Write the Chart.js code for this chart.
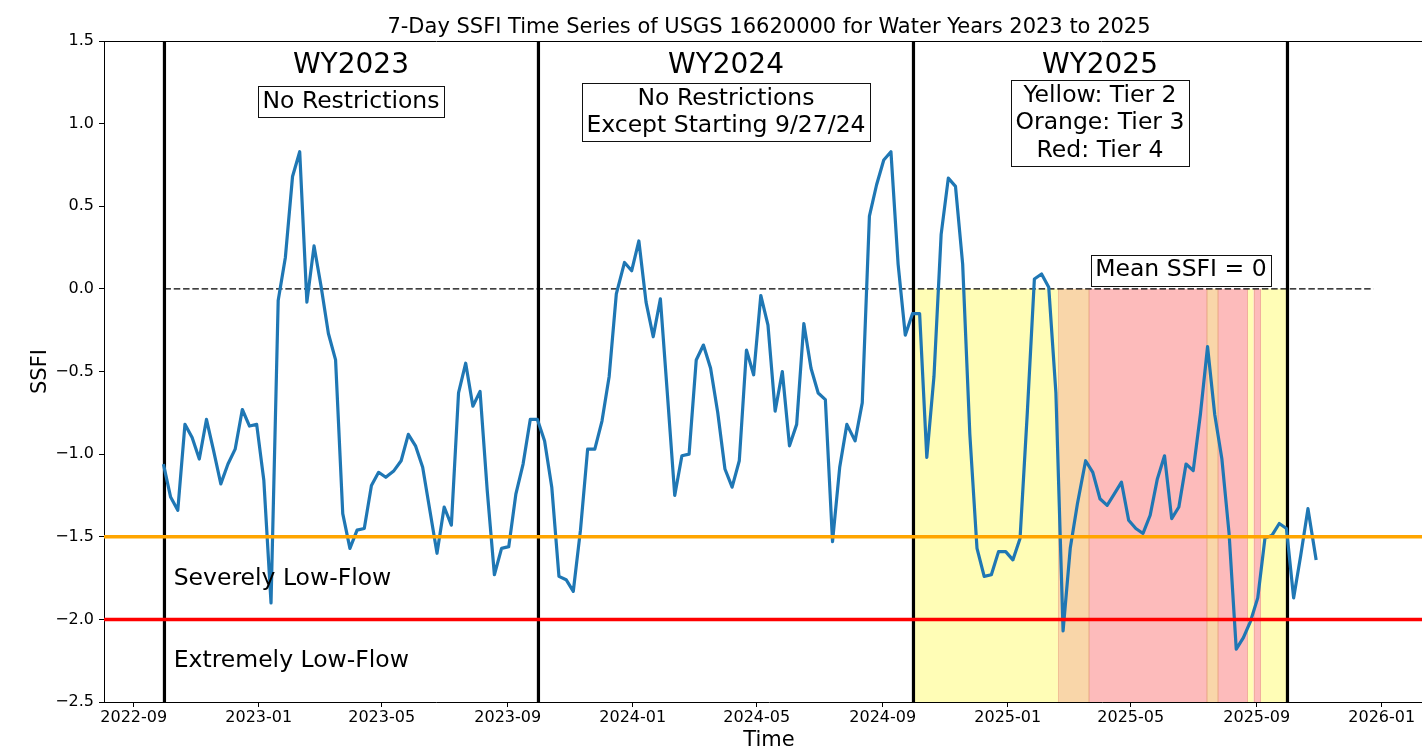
<!DOCTYPE html>
<html>
<head>
<meta charset="utf-8">
<title>7-Day SSFI Time Series of USGS 16620000</title>
<script src="https://cdn.jsdelivr.net/npm/chart.js@4.4.1/dist/chart.umd.min.js"></script>
<style>
  html, body { margin: 0; padding: 0; background: #fff; overflow: hidden; }
  canvas { display: block; }
</style>
</head>
<body>
<canvas id="chart" width="1434" height="748"></canvas>
<script>
"use strict";

// weekly 7-day SSFI values
const weekDates = [
	'2022-09-30','2022-10-07','2022-10-14','2022-10-21','2022-10-28','2022-11-04','2022-11-11','2022-11-18','2022-11-25','2022-12-02',
	'2022-12-09','2022-12-16','2022-12-23','2022-12-30','2023-01-06','2023-01-13','2023-01-20','2023-01-27','2023-02-03','2023-02-10',
	'2023-02-17','2023-02-24','2023-03-03','2023-03-10','2023-03-17','2023-03-24','2023-03-31','2023-04-07','2023-04-14','2023-04-21',
	'2023-04-28','2023-05-05','2023-05-13','2023-05-20','2023-05-27','2023-06-03','2023-06-10','2023-06-17','2023-06-24','2023-07-01',
	'2023-07-08','2023-07-15','2023-07-22','2023-07-29','2023-08-05','2023-08-12','2023-08-19','2023-08-26','2023-09-02','2023-09-09',
	'2023-09-16','2023-09-23','2023-09-30','2023-10-07','2023-10-14','2023-10-21','2023-10-28','2023-11-04','2023-11-11','2023-11-18',
	'2023-11-25','2023-12-02','2023-12-09','2023-12-16','2023-12-24','2023-12-31','2024-01-07','2024-01-14','2024-01-21','2024-01-28',
	'2024-02-04','2024-02-11','2024-02-18','2024-02-25','2024-03-03','2024-03-10','2024-03-17','2024-03-24','2024-03-31','2024-04-07',
	'2024-04-14','2024-04-21','2024-04-28','2024-05-05','2024-05-12','2024-05-19','2024-05-26','2024-06-02','2024-06-09','2024-06-16',
	'2024-06-23','2024-06-30','2024-07-07','2024-07-14','2024-07-21','2024-07-28','2024-08-05','2024-08-12','2024-08-19','2024-08-26',
	'2024-09-02','2024-09-09','2024-09-16','2024-09-23','2024-09-30','2024-10-07','2024-10-14','2024-10-21','2024-10-28','2024-11-04',
	'2024-11-11','2024-11-18','2024-11-25','2024-12-02','2024-12-09','2024-12-16','2024-12-23','2024-12-30','2025-01-06','2025-01-13',
	'2025-01-20','2025-01-27','2025-02-03','2025-02-10','2025-02-17','2025-02-24','2025-03-03','2025-03-10','2025-03-18','2025-03-25',
	'2025-04-01','2025-04-08','2025-04-15','2025-04-22','2025-04-29','2025-05-06','2025-05-13','2025-05-20','2025-05-27','2025-06-03',
	'2025-06-10','2025-06-17','2025-06-24','2025-07-01','2025-07-08','2025-07-15','2025-07-22','2025-07-29','2025-08-05','2025-08-12',
	'2025-08-19','2025-08-26','2025-09-02','2025-09-09','2025-09-16','2025-09-23','2025-09-30','2025-10-07','2025-10-14','2025-10-21',
	'2025-10-29'
]

const ssfi = [
	-1.06, -1.26, -1.34, -0.82, -0.90, -1.03, -0.79, -0.98, -1.18, -1.06,
	-0.97, -0.73, -0.83, -0.82, -1.16, -1.90, -0.07, 0.19, 0.68, 0.83,
	-0.08, 0.26, 0.01, -0.27, -0.43, -1.36, -1.57, -1.46, -1.45, -1.19,
	-1.11, -1.14, -1.10, -1.04, -0.88, -0.95, -1.08, -1.34, -1.60, -1.32,
	-1.43, -0.63, -0.45, -0.71, -0.62, -1.22, -1.73, -1.57, -1.56, -1.24,
	-1.06, -0.79, -0.79, -0.92, -1.20, -1.74, -1.76, -1.83, -1.46, -0.97,
	-0.97, -0.80, -0.53, -0.03, 0.16, 0.11, 0.29, -0.08, -0.29, -0.06,
	-0.65, -1.25, -1.01, -1.00, -0.43, -0.34, -0.48, -0.75, -1.09, -1.20,
	-1.04, -0.37, -0.52, -0.04, -0.22, -0.74, -0.50, -0.95, -0.82, -0.21,
	-0.48, -0.63, -0.67, -1.53, -1.08, -0.82, -0.92, -0.69, 0.44, 0.63,
	0.78, 0.83, 0.15, -0.28, -0.15, -0.15, -1.02, -0.53, 0.33, 0.67,
	0.62, 0.15, -0.88, -1.57, -1.74, -1.73, -1.59, -1.59, -1.64, -1.51,
	-0.76, 0.06, 0.09, 0.01, -0.63, -2.07, -1.57, -1.30, -1.04, -1.11,
	-1.27, -1.31, -1.24, -1.17, -1.40, -1.45, -1.48, -1.37, -1.15, -1.01,
	-1.39, -1.32, -1.06, -1.10, -0.76, -0.35, -0.76, -1.03, -1.48, -2.18,
	-2.11, -2.01, -1.87, -1.51, -1.49, -1.42, -1.45, -1.87, -1.61, -1.33,
	-1.64
]

// water years and restriction tiers
const waterYears = ['WY2023', 'WY2024', 'WY2025']
const wyBounds = ['2022-10-01', '2023-10-01', '2024-10-01', '2025-10-01']
const wyMiddles = ['2023-04-01', '2024-04-01', '2025-04-01']
const wyNotes = [
	['No Restrictions'],
	['No Restrictions', 'Except Starting 9/27/24'],
	['Yellow: Tier 2', 'Orange: Tier 3', 'Red: Tier 4']
]

const tierStart = ['2024-10-01', '2025-02-19', '2025-03-21', '2025-07-14', '2025-07-25', '2025-08-23', '2025-08-29', '2025-09-05']
const tierEnd   = ['2025-02-19', '2025-03-21', '2025-07-14', '2025-07-25', '2025-08-23', '2025-08-29', '2025-09-05', '2025-10-01']
const tierLevel = [2, 3, 4, 3, 4, 2, 4, 2]

const meanSSFI = 0
const meanSpan = ['2022-10-01', '2025-12-24']
const severeLevel = -1.5
const extremeLevel = -2.0

const xLimits = ['2022-08-03', '2026-02-21']
const xTickLabels = ['2022-09', '2023-01', '2023-05', '2023-09', '2024-01', '2024-05', '2024-09', '2025-01', '2025-05', '2025-09', '2026-01']
const yTicks = [1.5, 1.0, 0.5, 0.0, -0.5, -1.0, -1.5, -2.0, -2.5]

const FONT = 'DejaVu Sans'
const tierColors = { 2: '#FFFDB6', 3: '#F9D6A9', 4: '#FDBBBB' }
const tierEdges = { 2: null, 3: '#F1C096', 4: '#F2AE9E' }

const day = s => Date.parse(s)

Chart.defaults.font.family = FONT
Chart.defaults.color = '#000'

function strokeLine(ctx, x0, y0, x1, y1) {
	ctx.beginPath()
	ctx.moveTo(x0, y0)
	ctx.lineTo(x1, y1)
	ctx.stroke()
}

function boxedText(ctx, lines, cx, baseline, size) {
	ctx.font = `${size}px "${FONT}"`
	const lh = size * 1.17
	const w = Math.max(...lines.map(l => ctx.measureText(l).width))
	const top = baseline - size * 0.915
	const bottom = baseline + (lines.length - 1) * lh + size * 0.385
	ctx.fillStyle = '#fff'
	ctx.fillRect(cx - w / 2 - 4.5, top, w + 9, bottom - top)
	ctx.strokeStyle = '#111'
	ctx.lineWidth = 1
	ctx.strokeRect(Math.round(cx - w / 2 - 4.5) + 0.5, Math.round(top) + 0.5, Math.round(w + 9), Math.round(bottom - top))
	ctx.fillStyle = '#000'
	ctx.textAlign = 'center'
	ctx.textBaseline = 'alphabetic'
	lines.forEach((l, i) => ctx.fillText(l, cx, baseline + i * lh))
}

// shading, water-year boundaries and the mean line, under the series
const backdrop = {
	id: 'backdrop',
	beforeDatasetsDraw(chart) {
		const { ctx, chartArea: area, scales: { x, y } } = chart
		ctx.save()
		ctx.beginPath()
		ctx.rect(area.left, area.top, area.width, area.height)
		ctx.clip()

		const top = y.getPixelForValue(meanSSFI)
		tierStart.forEach((s, i) => {
			const x0 = x.getPixelForValue(day(s))
			const x1 = x.getPixelForValue(day(tierEnd[i]))
			ctx.fillStyle = tierColors[tierLevel[i]]
			ctx.fillRect(x0, top, x1 - x0, area.bottom - top)
		})
		// faint span edges
		ctx.lineWidth = 1
		tierStart.forEach((s, i) => {
			const edge = tierEdges[tierLevel[i]]
			if (!edge) return
			ctx.strokeStyle = edge
			const x0 = Math.round(x.getPixelForValue(day(s))) + 0.5
			const x1 = Math.round(x.getPixelForValue(day(tierEnd[i]))) - 0.5
			strokeLine(ctx, x0, top, x0, area.bottom)
			strokeLine(ctx, x1, top, x1, area.bottom)
		})

		ctx.strokeStyle = '#000'
		ctx.lineWidth = 3.2
		wyBounds.forEach(d => {
			const px = x.getPixelForValue(day(d))
			strokeLine(ctx, px, area.top, px, area.bottom)
		})

		ctx.lineWidth = 1.3
		ctx.setLineDash([6.5, 2.8])
		strokeLine(ctx, x.getPixelForValue(day(meanSpan[0])), top, x.getPixelForValue(day(meanSpan[1])), top)
		ctx.restore()
	},
	afterDatasetsDraw(chart) {
		const { ctx, chartArea: area, scales: { x, y } } = chart
		ctx.save()

		ctx.lineWidth = 3.5
		ctx.strokeStyle = '#FFA500'
		const ys = y.getPixelForValue(severeLevel)
		strokeLine(ctx, area.left, ys, area.right, ys)
		ctx.strokeStyle = '#FF0000'
		const ye = y.getPixelForValue(extremeLevel)
		strokeLine(ctx, area.left, ye, area.right, ye)

		// top spine
		ctx.lineWidth = 1
		ctx.strokeStyle = '#000'
		strokeLine(ctx, area.left, Math.round(area.top) + 0.5, area.right, Math.round(area.top) + 0.5)

		// title
		ctx.fillStyle = '#000'
		ctx.textAlign = 'center'
		ctx.textBaseline = 'alphabetic'
		ctx.font = `21px "${FONT}"`
		ctx.fillText('7-Day SSFI Time Series of USGS 16620000 for Water Years 2023 to 2025', (area.left + area.right) / 2, 33)

		// water year headings and notes
		waterYears.forEach((wy, i) => {
			const cx = x.getPixelForValue(day(wyMiddles[i]))
			ctx.font = `28px "${FONT}"`
			ctx.fillStyle = '#000'
			ctx.textAlign = 'center'
			ctx.fillText(wy, cx, y.getPixelForValue(1.306))
			const base = [1.097, 1.115, 1.131][i]
			boxedText(ctx, wyNotes[i], cx, y.getPixelForValue(base), 23.5)
		})

		boxedText(ctx, ['Mean SSFI = 0'], x.getPixelForValue(day('2025-06-19')), y.getPixelForValue(0.076), 23.5)

		ctx.font = `23.5px "${FONT}"`
		ctx.fillStyle = '#000'
		ctx.textAlign = 'left'
		ctx.fillText('Severely Low-Flow', x.getPixelForValue(day('2022-10-10')), y.getPixelForValue(-1.79))
		ctx.fillText('Extremely Low-Flow', x.getPixelForValue(day('2022-10-10')), y.getPixelForValue(-2.288))

		ctx.restore()
	}
}

const chart = new Chart(document.getElementById('chart'), {
	type: 'line',
	data: {
		datasets: [{
			label: 'SSFI',
			data: weekDates.map((d, i) => ({ x: day(d), y: ssfi[i] })),
			borderColor: '#1f77b4',
			borderWidth: 3.2,
			borderJoinStyle: 'round',
			pointRadius: 0,
			tension: 0,
			fill: false
		}]
	},
	options: {
		responsive: false,
		animation: false,
		layout: { padding: { top: 41, left: 0, right: 0, bottom: 0 } },
		plugins: {
			legend: { display: false },
			tooltip: { enabled: false }
		},
		scales: {
			x: {
				type: 'linear',
				min: day(xLimits[0]),
				max: day(xLimits[1]),
				afterBuildTicks: s => { s.ticks = xTickLabels.map(l => ({ value: day(l + '-01') })) },
				ticks: {
					autoSkip: false,
					maxRotation: 0,
					padding: 1.5,
					color: '#000',
					font: { size: 16 },
					callback: (v, i) => xTickLabels[i]
				},
				grid: { drawOnChartArea: false, drawTicks: true, tickLength: 5, tickColor: '#000', tickWidth: 1 },
				border: { display: true, color: '#000', width: 1 },
				title: { display: true, text: 'Time', color: '#000', font: { size: 21 }, padding: { top: 0, bottom: -5.4 } },
				afterFit: s => { s.height = 46 }
			},
			y: {
				type: 'linear',
				min: -2.5,
				max: 1.5,
				afterBuildTicks: s => { s.ticks = yTicks.map(v => ({ value: v })) },
				ticks: {
					padding: 5,
					color: '#000',
					font: { size: 16 },
					callback: v => v.toFixed(1).replace('-', '\u2212')
				},
				grid: { drawOnChartArea: false, drawTicks: true, tickLength: 5, tickColor: '#000', tickWidth: 1 },
				border: { display: true, color: '#000', width: 1 },
				title: { display: true, text: 'SSFI', color: '#000', font: { size: 21 }, padding: { top: 28, bottom: 0 } },
				afterFit: s => { s.width = 104 }
			}
		}
	},
	plugins: [backdrop]
})
</script>
</body>
</html>
